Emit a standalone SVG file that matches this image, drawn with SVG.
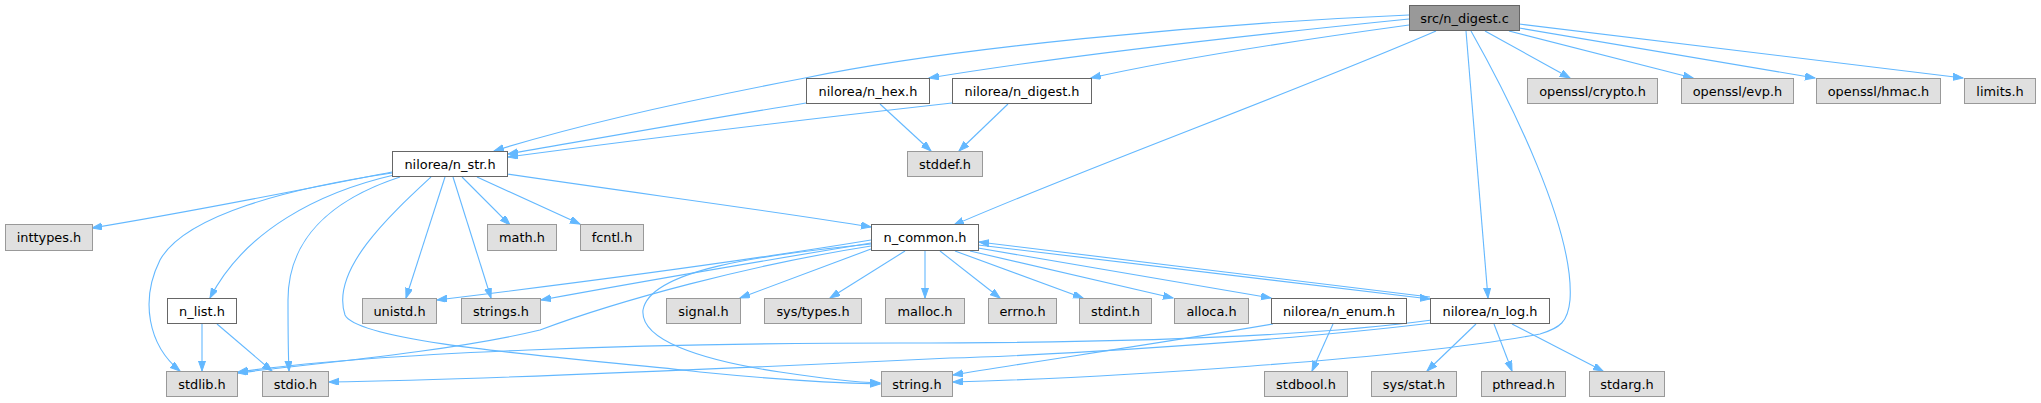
<svg xmlns="http://www.w3.org/2000/svg" width="2041" height="403" viewBox="0 0 2041 403">
<style>
.n rect{fill:#ffffff;stroke:#666666;stroke-width:1}
.r rect{fill:#999999;stroke:#666666;stroke-width:1}
.s rect{fill:#e0e0e0;stroke:#999999;stroke-width:1}
text{font-family:"DejaVu Sans","Liberation Sans",sans-serif;font-size:12.9px;fill:#000000;text-anchor:middle}
#edges path{fill:none;stroke:#63b8ff;stroke-width:1.1;marker-end:url(#ah)}
</style>
<defs>
<marker id="ah" markerWidth="11" markerHeight="8" refX="10" refY="3.5" orient="auto" markerUnits="userSpaceOnUse">
<path d="M0,0 L10,3.5 L0,7 z" fill="#63b8ff" stroke="#63b8ff" stroke-width="1"/>
</marker>
</defs>
<rect width="2041" height="403" fill="#ffffff"/>
<g id="edges">
<!-- src -->
<path d="M1409,15 C1200,24 950,48 805,78 C700,98 580,124 494,151"/>
<path d="M1409,19 C1250,35 1050,58 929,78"/>
<path d="M1409,25 C1300,40 1180,58 1091,78"/>
<path d="M1436,31 C1300,90 1080,170 954,225"/>
<path d="M1466,31 L1488,298"/>
<path d="M1471,31 C1510,100 1575,230 1570,300 C1568,322 1560,328 1540,334 C1400,360 1100,378 953,382"/>
<path d="M1485,31 L1570,78"/>
<path d="M1509,31 L1693,78"/>
<path d="M1519,28 L1815,78"/>
<path d="M1519,24 L1963,78"/>
<!-- n_hex / n_digest -->
<path d="M806,103 C700,120 600,138 508,154"/>
<path d="M952,103 C800,120 650,138 508,157"/>
<path d="M880,104 L931,151"/>
<path d="M1008,104 L959,151"/>
<!-- n_str -->
<path d="M507,174 C650,195 780,212 871,227"/>
<path d="M392,172 C300,190 190,212 92,228"/>
<path d="M392,173 C290,188 185,215 160,260 C140,300 148,345 180,371"/>
<path d="M394,175 C320,192 245,230 210,298"/>
<path d="M400,177 C330,200 288,240 288,300 C288,330 288,350 289,371"/>
<path d="M431,177 C390,215 330,270 345,315 C360,345 600,360 700,372 C780,380 840,383 880,384"/>
<path d="M445,177 L406,298"/>
<path d="M453,177 L491,298"/>
<path d="M462,177 L510,225"/>
<path d="M477,177 L580,224"/>
<!-- n_list -->
<path d="M202,324 L202,371"/>
<path d="M217,324 L272,371"/>
<!-- n_common -->
<path d="M871,240 C750,260 560,285 437,300"/>
<path d="M871,243 C780,258 650,280 541,300"/>
<path d="M871,246 C750,265 620,300 540,330 C450,352 300,365 238,373"/>
<path d="M871,249 L740,298"/>
<path d="M905,251 L830,298"/>
<path d="M925,251 L925,298"/>
<path d="M940,251 L1000,298"/>
<path d="M955,251 L1083,298"/>
<path d="M970,251 L1173,298"/>
<path d="M978,248 L1271,298"/>
<path d="M978,245 L1430,299"/>
<path d="M1430,297 L979,242"/>
<path d="M871,244 C760,255 650,270 643,310 C640,340 700,360 780,372 C820,378 850,382 880,383"/>
<!-- n_enum -->
<path d="M1273,324 C1150,345 1030,362 953,375"/>
<path d="M1333,324 L1312,371"/>
<!-- n_log -->
<path d="M1432,320 C1300,338 1100,343 900,343 C650,343 380,352 238,372"/>
<path d="M1432,323 C1250,345 1000,357 950,358 C700,370 450,380 329,382"/>
<path d="M1476,324 L1427,371"/>
<path d="M1494,324 L1512,371"/>
<path d="M1512,324 L1603,371"/>
</g>
<g id="node-src" class="r"><rect x="1409.5" y="5.5" width="110" height="25"/><text x="1464.5" y="22.5">src/n_digest.c</text></g>
<g id="node-n_hex" class="n"><rect x="806.5" y="78.5" width="123" height="25"/><text x="868" y="95.5">nilorea/n_hex.h</text></g>
<g id="node-n_digest" class="n"><rect x="952.5" y="78.5" width="139" height="25"/><text x="1022" y="95.5">nilorea/n_digest.h</text></g>
<g id="node-crypto" class="s"><rect x="1527.5" y="78.5" width="130" height="25"/><text x="1592.5" y="95.5">openssl/crypto.h</text></g>
<g id="node-evp" class="s"><rect x="1681.5" y="78.5" width="112" height="25"/><text x="1737.5" y="95.5">openssl/evp.h</text></g>
<g id="node-hmac" class="s"><rect x="1816.5" y="78.5" width="124" height="25"/><text x="1878.5" y="95.5">openssl/hmac.h</text></g>
<g id="node-limits" class="s"><rect x="1964.5" y="78.5" width="71" height="25"/><text x="2000" y="95.5">limits.h</text></g>
<g id="node-n_str" class="n"><rect x="392.5" y="151.5" width="115" height="25"/><text x="450" y="168.5">nilorea/n_str.h</text></g>
<g id="node-stddef" class="s"><rect x="907.5" y="151.5" width="75" height="25"/><text x="945" y="168.5">stddef.h</text></g>
<g id="node-inttypes" class="s"><rect x="5.5" y="224.5" width="87" height="26"/><text x="49" y="242">inttypes.h</text></g>
<g id="node-math" class="s"><rect x="487.5" y="224.5" width="69" height="26"/><text x="522" y="242">math.h</text></g>
<g id="node-fcntl" class="s"><rect x="580.5" y="224.5" width="63" height="26"/><text x="612" y="242">fcntl.h</text></g>
<g id="node-n_common" class="n"><rect x="871.5" y="224.5" width="107" height="26"/><text x="925" y="242">n_common.h</text></g>
<g id="node-n_list" class="n"><rect x="167.5" y="298.5" width="69" height="25"/><text x="202" y="315.5">n_list.h</text></g>
<g id="node-unistd" class="s"><rect x="362.5" y="298.5" width="74" height="25"/><text x="399.5" y="315.5">unistd.h</text></g>
<g id="node-strings" class="s"><rect x="461.5" y="298.5" width="79" height="25"/><text x="501" y="315.5">strings.h</text></g>
<g id="node-signal" class="s"><rect x="666.5" y="298.5" width="74" height="25"/><text x="703.5" y="315.5">signal.h</text></g>
<g id="node-systypes" class="s"><rect x="764.5" y="298.5" width="97" height="25"/><text x="813" y="315.5">sys/types.h</text></g>
<g id="node-malloc" class="s"><rect x="885.5" y="298.5" width="79" height="25"/><text x="925" y="315.5">malloc.h</text></g>
<g id="node-errno" class="s"><rect x="988.5" y="298.5" width="68" height="25"/><text x="1022.5" y="315.5">errno.h</text></g>
<g id="node-stdint" class="s"><rect x="1079.5" y="298.5" width="72" height="25"/><text x="1115.5" y="315.5">stdint.h</text></g>
<g id="node-alloca" class="s"><rect x="1174.5" y="298.5" width="74" height="25"/><text x="1211.5" y="315.5">alloca.h</text></g>
<g id="node-n_enum" class="n"><rect x="1271.5" y="298.5" width="135" height="25"/><text x="1339" y="315.5">nilorea/n_enum.h</text></g>
<g id="node-n_log" class="n"><rect x="1430.5" y="298.5" width="119" height="25"/><text x="1490" y="315.5">nilorea/n_log.h</text></g>
<g id="node-stdlib" class="s"><rect x="166.5" y="371.5" width="71" height="25"/><text x="202" y="388.5">stdlib.h</text></g>
<g id="node-stdio" class="s"><rect x="262.5" y="371.5" width="66" height="25"/><text x="295.5" y="388.5">stdio.h</text></g>
<g id="node-string" class="s"><rect x="881.5" y="371.5" width="71" height="25"/><text x="917" y="388.5">string.h</text></g>
<g id="node-stdbool" class="s"><rect x="1264.5" y="371.5" width="83" height="25"/><text x="1306" y="388.5">stdbool.h</text></g>
<g id="node-sysstat" class="s"><rect x="1371.5" y="371.5" width="85" height="25"/><text x="1414" y="388.5">sys/stat.h</text></g>
<g id="node-pthread" class="s"><rect x="1481.5" y="371.5" width="84" height="25"/><text x="1523.5" y="388.5">pthread.h</text></g>
<g id="node-stdarg" class="s"><rect x="1589.5" y="371.5" width="75" height="25"/><text x="1627" y="388.5">stdarg.h</text></g>
</svg>
